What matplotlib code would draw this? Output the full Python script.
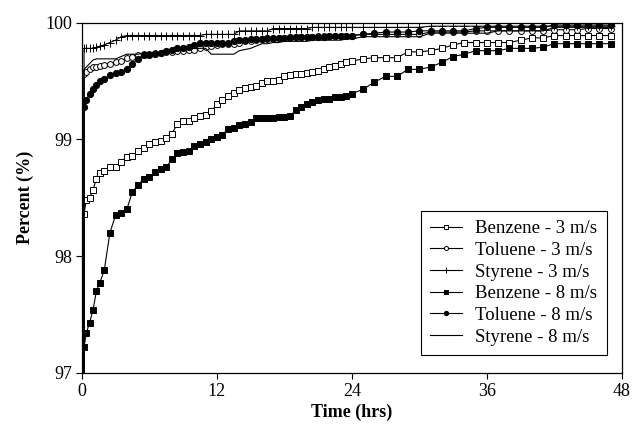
import matplotlib
matplotlib.use("Agg")
import matplotlib.pyplot as plt

plt.rcParams['font.family'] = ['Liberation Serif', 'DejaVu Serif']

# sampling times (hrs); t = 0 is the start of the run (0 %)
time_hrs = [0, 0.2, 0.4, 0.7, 1.0, 1.3, 1.6, 2.0, 2.5, 3.0, 3.5, 4.0, 4.5, 5.0,
            5.5, 6.0, 6.5, 7.0, 7.5, 8.0, 8.5, 9.0, 9.5, 10.0, 10.5, 11.0,
            11.5, 12.0, 12.5, 13.0, 13.5, 14.0, 14.5, 15.0, 15.5, 16.0, 16.5,
            17.0, 17.5, 18.0, 18.5, 19.0, 19.5, 20.0, 20.5, 21.0, 21.5, 22.0,
            22.5, 23.0, 23.5, 24.0, 25, 26, 27, 28, 29, 30, 31, 32, 33, 34,
            35, 36, 37, 38, 39, 40, 41, 42, 43, 44, 45, 46, 47]

benzene_3 = [0, 98.36, 98.48, 98.50, 98.57, 98.66, 98.71, 98.73, 98.76, 98.76,
             98.81, 98.85, 98.86, 98.90, 98.93, 98.96, 98.98, 98.99, 99.01,
             99.05, 99.13, 99.16, 99.16, 99.18, 99.20, 99.21, 99.24, 99.30,
             99.34, 99.37, 99.40, 99.42, 99.44, 99.45, 99.46, 99.48, 99.50,
             99.50, 99.51, 99.54, 99.55, 99.56, 99.56, 99.57, 99.58, 99.59,
             99.60, 99.62, 99.63, 99.65, 99.66, 99.67, 99.69, 99.70, 99.70,
             99.70, 99.75, 99.75, 99.76, 99.78, 99.81, 99.83, 99.83, 99.83,
             99.83, 99.83, 99.85, 99.87, 99.87, 99.89, 99.89, 99.89, 99.89,
             99.89, 99.89]
toluene_3 = [0, 99.56, 99.58, 99.60, 99.62, 99.62, 99.63, 99.64, 99.65, 99.66,
             99.67, 99.70, 99.71, 99.72, 99.73, 99.73, 99.74, 99.74, 99.75,
             99.75, 99.76, 99.76, 99.77, 99.77, 99.78, 99.79, 99.80, 99.81,
             99.82, 99.82, 99.82, 99.83, 99.84, 99.84, 99.85, 99.86, 99.86,
             99.86, 99.87, 99.87, 99.87, 99.88, 99.88, 99.88, 99.88, 99.89,
             99.89, 99.89, 99.89, 99.89, 99.89, 99.89, 99.90, 99.90, 99.90,
             99.90, 99.90, 99.90, 99.92, 99.92, 99.92, 99.92, 99.93, 99.93,
             99.93, 99.93, 99.93, 99.93, 99.93, 99.94, 99.94, 99.94, 99.95,
             99.95, 99.95]
styrene_3 = [0, 99.78, 99.78, 99.78, 99.78, 99.79, 99.80, 99.81, 99.83, 99.85,
             99.88, 99.89, 99.89, 99.89, 99.89, 99.89, 99.89, 99.89, 99.89,
             99.89, 99.89, 99.89, 99.89, 99.89, 99.89, 99.90, 99.90, 99.90,
             99.90, 99.90, 99.90, 99.93, 99.93, 99.93, 99.93, 99.93, 99.93,
             99.95, 99.95, 99.95, 99.95, 99.95, 99.95, 99.95, 99.96, 99.96,
             99.96, 99.96, 99.96, 99.96, 99.96, 99.96, 99.96, 99.96, 99.96,
             99.96, 99.96, 99.96, 99.97, 99.97, 99.97, 99.97, 99.97, 99.97,
             99.97, 99.97, 99.97, 99.97, 99.97, 99.97, 99.97, 99.97, 99.97,
             99.97, 99.97]
benzene_8 = [0, 97.22, 97.34, 97.43, 97.54, 97.70, 97.77, 97.88, 98.20, 98.35,
             98.37, 98.40, 98.55, 98.61, 98.66, 98.68, 98.72, 98.75, 98.76,
             98.83, 98.88, 98.89, 98.90, 98.94, 98.96, 98.98, 99.00, 99.02,
             99.04, 99.09, 99.10, 99.12, 99.13, 99.15, 99.18, 99.18, 99.18,
             99.18, 99.19, 99.19, 99.20, 99.25, 99.28, 99.30, 99.32, 99.34,
             99.35, 99.35, 99.36, 99.36, 99.37, 99.39, 99.43, 99.49, 99.54,
             99.54, 99.60, 99.60, 99.62, 99.66, 99.71, 99.73, 99.76, 99.76,
             99.76, 99.78, 99.78, 99.78, 99.79, 99.82, 99.82, 99.82, 99.82,
             99.82, 99.82]
toluene_8 = [0, 99.28, 99.34, 99.39, 99.43, 99.47, 99.50, 99.52, 99.55, 99.57,
             99.58, 99.60, 99.65, 99.69, 99.72, 99.72, 99.73, 99.74, 99.76,
             99.77, 99.78, 99.78, 99.79, 99.81, 99.83, 99.83, 99.83, 99.83,
             99.83, 99.83, 99.84, 99.85, 99.85, 99.86, 99.86, 99.86, 99.87,
             99.87, 99.87, 99.87, 99.88, 99.88, 99.88, 99.88, 99.88, 99.88,
             99.88, 99.89, 99.89, 99.89, 99.89, 99.89, 99.90, 99.91, 99.92,
             99.92, 99.92, 99.93, 99.93, 99.93, 99.93, 99.93, 99.95, 99.96,
             99.96, 99.96, 99.96, 99.96, 99.96, 99.98, 99.98, 99.98, 99.98,
             99.98, 99.98]
styrene_8 = [0, 99.60, 99.62, 99.65, 99.68, 99.69, 99.69, 99.69, 99.69, 99.69,
             99.71, 99.73, 99.73, 99.73, 99.74, 99.74, 99.74, 99.75, 99.76,
             99.76, 99.77, 99.77, 99.78, 99.78, 99.78, 99.78, 99.73, 99.73,
             99.73, 99.73, 99.73, 99.76, 99.77, 99.78, 99.80, 99.82, 99.82,
             99.83, 99.83, 99.84, 99.84, 99.84, 99.84, 99.84, 99.85, 99.85,
             99.85, 99.85, 99.85, 99.85, 99.86, 99.86, 99.88, 99.88, 99.88,
             99.88, 99.88, 99.88, 99.91, 99.91, 99.91, 99.91, 99.91, 99.91,
             99.93, 99.93, 99.93, 99.93, 99.93, 99.96, 99.96, 99.96, 99.96,
             99.96, 99.96]

series = [
    (benzene_3, 'Benzene - 3 m/s', dict(marker='s', mfc='white', ms=4.2)),
    (toluene_3, 'Toluene - 3 m/s', dict(marker='o', mfc='white', ms=4.2)),
    (styrene_3, 'Styrene - 3 m/s', dict(marker='+', ms=6)),
    (benzene_8, 'Benzene - 8 m/s', dict(marker='s', mfc='black', ms=4.5)),
    (toluene_8, 'Toluene - 8 m/s', dict(marker='o', mfc='black', ms=4.5)),
    (styrene_8, 'Styrene - 8 m/s', dict(marker='None')),
]

fig = plt.figure(figsize=(6.34, 4.28), dpi=100)
ax = fig.add_axes([0.129, 0.129, 0.852, 0.818])

for values, label, style in series:
    ax.plot(time_hrs, values, color='black', linewidth=0.8, mec='black',
            mew=0.7, label=label, **style)

ax.set_xlim(0, 48)
ax.set_ylim(97, 100)
ax.set_xticks([0, 12, 24, 36, 48])
ax.set_yticks([97, 98, 99, 100])
ax.tick_params(direction='out', length=4, width=0.8, labelsize=13, pad=3)
for s in ax.spines.values():
    s.set_linewidth(0.9)

ax.set_xlabel('Time (hrs)', fontsize=13, fontweight='bold', labelpad=3)
ax.set_ylabel('Percent (%)', fontsize=13, fontweight='bold', labelpad=8)

leg = ax.legend(loc='lower right', bbox_to_anchor=(0.972, 0.051),
                borderaxespad=0, fontsize=13.5, labelspacing=0.24,
                handlelength=1.7, handletextpad=0.7, fancybox=False,
                edgecolor='black', framealpha=1, borderpad=0.5,
                markerscale=0.7)
leg.get_frame().set_linewidth(0.8)

fig.savefig('out.png', dpi=100)
